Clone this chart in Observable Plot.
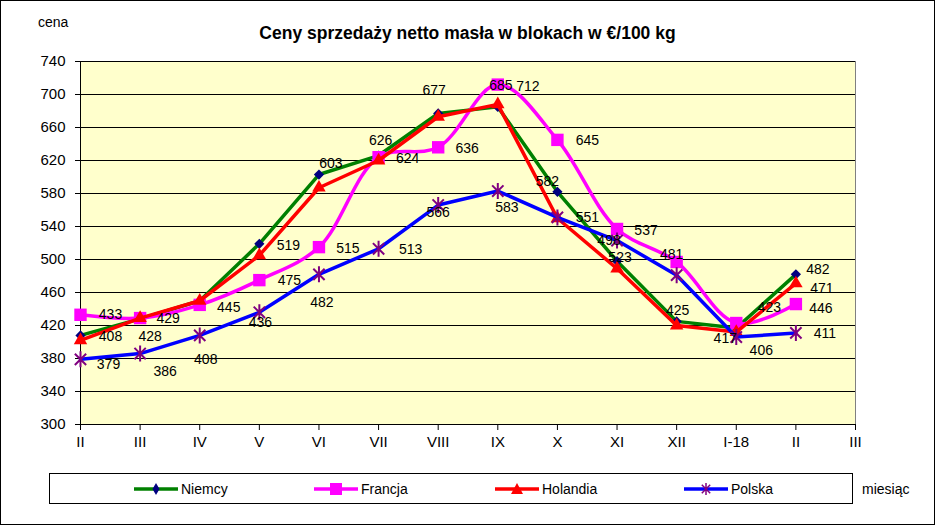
<!DOCTYPE html>
<html>
<head>
<meta charset="utf-8">
<script src="https://cdn.jsdelivr.net/npm/d3@7"></script>
<script src="https://cdn.jsdelivr.net/npm/@observablehq/plot@0.6"></script>
<style>
  html, body { margin: 0; padding: 0; background: #fff; }
  #wrap { position: relative; width: 935px; height: 525px; font-family: Arial, "Liberation Sans", sans-serif; color: #000; overflow: hidden; }
  #border { position: absolute; left: 0; top: 0; width: 935px; height: 525px; box-sizing: border-box; border: 1px solid #000; pointer-events: none; }
  #chart { position: absolute; left: 0; top: 0; }
  #title { position: absolute; left: 0; top: 22px; width: 935px; text-align: center; font-weight: bold; font-size: 17.5px; line-height: 22px; }
  #cena { position: absolute; left: 38px; top: 14px; font-size: 14px; line-height: 16px; }
  #legend { position: absolute; left: 49px; top: 473px; width: 804px; height: 31px; box-sizing: border-box; border: 1px solid #000; background: #fff; }
  .item { position: absolute; top: 0; height: 29px; display: flex; align-items: center; font-size: 14px; }
  .item svg { display: block; margin-right: 2px; }
  #miesiac { position: absolute; left: 862px; top: 480px; font-size: 14px; line-height: 18px; }
</style>
</head>
<body>
<div id="wrap">
  <div id="chart"></div>
  <div id="title">Ceny sprzedaży netto masła w blokach w €/100 kg</div>
  <div id="cena">cena</div>
  <div id="legend"></div>
  <div id="miesiac">miesiąc</div>
  <div id="border"></div>
</div>
<script>
// ---- data ----
const months = ["II","III","IV","V","VI","VII","VIII","IX","X","XI","XII","I-18","II","III"];
const seriesNames = ["Niemcy","Francja","Holandia","Polska"];
const niemcy   = [408,428,450,519,603,626,677,685,582,498,425,417,482];
const francja  = [433,429,445,475,515,624,636,712,645,537,497,423,446];
const holandia = [402,429,450,505,587,620,673,688,550,489,420,412,471];
const polska   = [379,386,408,436,482,513,566,583,551,523,481,406,411];
const yTicks = [300,340,380,420,460,500,540,580,620,660,700,740];

// indices of points carrying a data label
const niemcyLabelIdx   = [0,1,3,4,5,6,7,8,9,10,11,12];
const francjaLabelIdx  = [0,1,2,3,4,5,6,7,8,9,11,12];
const holandiaLabelIdx = [12];
const polskaLabelIdx   = [0,1,2,3,4,5,6,7,8,9,10,11,12];

// label offsets (dx, dy) relative to their point
const niemcyLabelOff = [[30,1],[10,18],[29,2],[12,-11],[2,-15],[-4,-23],[3,-21],[-10,-10],[-8,-21],[1,-11],[-11,11],[22,-5]];
const francjaLabelOff = [[30,0],[28,0],[29,3],[30,0],[29,1],[29,1],[29,1],[30,2],[30,1],[29,2],[33,-16],[25,4]];
const holandiaLabelOff = [[26,5]];
const polskaLabelOff = [[28,5],[25,18],[6,24],[1,10],[3,28],[32,1],[0,7],[9,16],[30,0],[3,17],[-5,-21],[25,13],[29,1]];

// ---- styles ----
const lineColors = {Niemcy:"#008000", Francja:"#FF00FF", Holandia:"#FF0000", Polska:"#0000FF"};
const markColors = {Niemcy:"#000080", Francja:"#FF00FF", Holandia:"#FF0000", Polska:"#800080"};

const starSymbol = {
  draw(ctx, size) {
    const r = Math.sqrt(size / Math.PI);
    const d = r * Math.SQRT1_2;
    ctx.moveTo(0, -r); ctx.lineTo(0, r);
    ctx.moveTo(-d, -d); ctx.lineTo(d, d);
    ctx.moveTo(-d, d); ctx.lineTo(d, -d);
  }
};

const toRows = (vals) => vals.map((v, i) => ({i, v}));
const nRows = toRows(niemcy), fRows = toRows(francja), hRows = toRows(holandia), pRows = toRows(polska);

function labelMarks(vals, idx, offs) {
  return idx.map((i, k) => Plot.text([{i, v: vals[i]}], {
    x: "i", y: "v", text: d => String(d.v),
    dx: offs[k][0], dy: offs[k][1],
    fill: "#000", fontSize: 14, textAnchor: "middle"
  }));
}

const chart = Plot.plot({
  width: 935, height: 525,
  marginLeft: 80, marginRight: 80, marginTop: 61, marginBottom: 101,
  x: {type: "linear", domain: [0, 13]},
  y: {domain: [300, 740]},
  style: {background: "transparent", fontFamily: "Arial, 'Liberation Sans', sans-serif", fontSize: "14px", color: "#000", overflow: "visible"},
  marks: [
    Plot.frame({fill: "#FFFFCC", stroke: "#808080"}),
    Plot.gridY(yTicks, {stroke: "#000", strokeOpacity: 1, strokeWidth: 1}),
    Plot.axisY(yTicks, {tickSize: 5, tickPadding: 10, label: null, fontSize: 15}),
    Plot.axisX(d3.range(months.length), {tickFormat: i => months[i], tickSize: 6, tickPadding: 6, label: null, fontSize: 15}),
    Plot.ruleX([0], {stroke: "#000"}),
    Plot.ruleY([300], {stroke: "#000"}),
    // Niemcy
    Plot.line(nRows, {x: "i", y: "v", stroke: lineColors.Niemcy, strokeWidth: 3.5}),
    Plot.dot(nRows, {x: "i", y: "v", symbol: "diamond2", r: 4.6, fill: markColors.Niemcy, stroke: "none"}),
    // Francja
    Plot.line(fRows, {x: "i", y: "v", stroke: lineColors.Francja, strokeWidth: 3.5, curve: "catmull-rom"}),
    Plot.dot(fRows, {x: "i", y: "v", symbol: "square", r: 7, fill: markColors.Francja, stroke: "none"}),
    // Holandia
    Plot.line(hRows, {x: "i", y: "v", stroke: lineColors.Holandia, strokeWidth: 3.5}),
    Plot.dot(hRows, {x: "i", y: "v", symbol: "triangle", r: 5, fill: markColors.Holandia, stroke: "none"}),
    // Polska
    Plot.line(pRows, {x: "i", y: "v", stroke: lineColors.Polska, strokeWidth: 3.5}),
    Plot.dot(pRows, {x: "i", y: "v", symbol: starSymbol, r: 8, fill: "none", stroke: markColors.Polska, strokeWidth: 2}),
    ...labelMarks(niemcy, niemcyLabelIdx, niemcyLabelOff),
    ...labelMarks(francja, francjaLabelIdx, francjaLabelOff),
    ...labelMarks(holandia, holandiaLabelIdx, holandiaLabelOff),
    ...labelMarks(polska, polskaLabelIdx, polskaLabelOff)
  ]
});
document.getElementById("chart").appendChild(chart);

// ---- legend ----
const legendLeft = [83, 263, 444, 633];
const legend = document.getElementById("legend");
const sym = {Niemcy: "diamond", Francja: "square", Holandia: "triangle", Polska: "star"};
seriesNames.forEach((name, k) => {
  const item = document.createElement("div");
  item.className = "item";
  item.style.left = legendLeft[k] + "px";
  const ns = "http://www.w3.org/2000/svg";
  const svg = document.createElementNS(ns, "svg");
  svg.setAttribute("width", 46); svg.setAttribute("height", 16);
  const ln = document.createElementNS(ns, "line");
  ln.setAttribute("x1", 1); ln.setAttribute("x2", 45); ln.setAttribute("y1", 8); ln.setAttribute("y2", 8);
  ln.setAttribute("stroke", lineColors[name]); ln.setAttribute("stroke-width", 3.5);
  svg.appendChild(ln);
  const p = document.createElementNS(ns, "path");
  const s = sym[name];
  if (s === "diamond") p.setAttribute("d", "M23,2L26.5,8L23,14L19.5,8Z");
  else if (s === "square") p.setAttribute("d", "M17,2H29V14H17Z");
  else if (s === "triangle") p.setAttribute("d", "M23,2L29,13H17Z");
  else p.setAttribute("d", "M23,2V14M18.8,3.8L27.2,12.2M18.8,12.2L27.2,3.8");
  if (s === "star") { p.setAttribute("fill", "none"); p.setAttribute("stroke", markColors[name]); p.setAttribute("stroke-width", 1.5); }
  else p.setAttribute("fill", markColors[name]);
  svg.appendChild(p);
  item.appendChild(svg);
  const t = document.createElement("span");
  t.textContent = name;
  item.appendChild(t);
  legend.appendChild(item);
});
</script>
</body>
</html>
